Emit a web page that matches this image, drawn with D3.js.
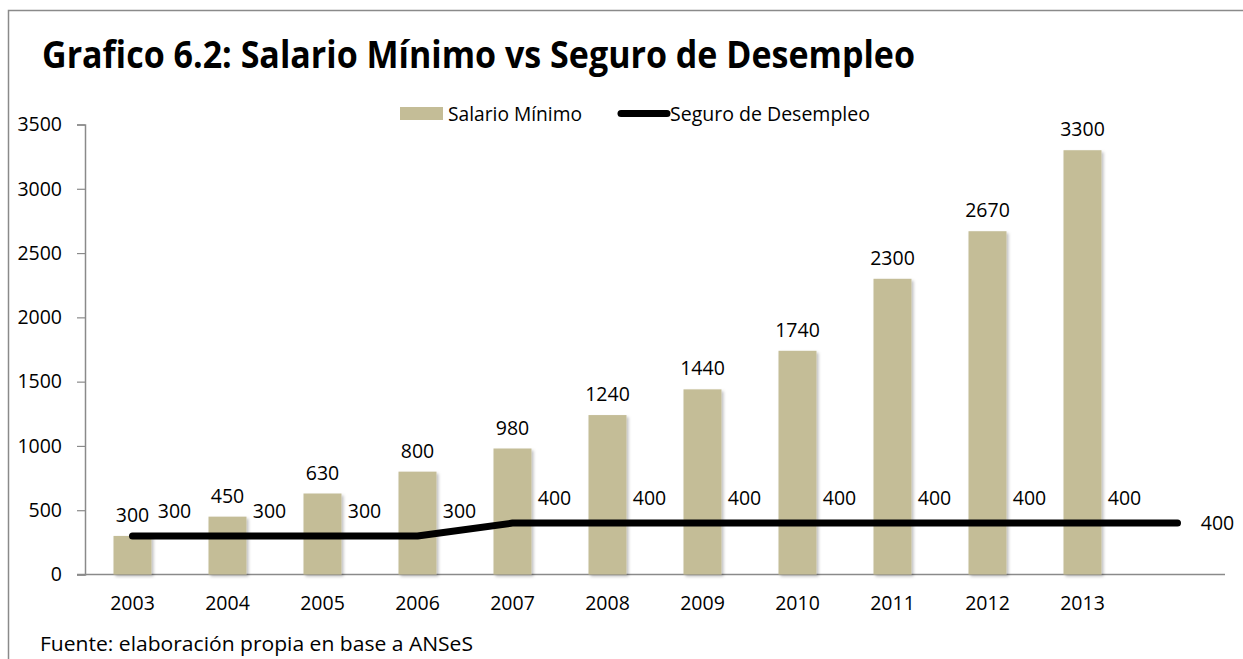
<!DOCTYPE html>
<html>
<head>
<meta charset="utf-8">
<script src="https://cdn.jsdelivr.net/npm/d3@7"></script>
<style>
	body { margin: 0; background: #fff; }
	text { font-family: "Open Sans", "Noto Sans", sans-serif; fill: #000; }
</style>
</head>
<body>
<div id="chart-area"></div>
<script>
// data
var years = ["2003", "2004", "2005", "2006", "2007", "2008", "2009", "2010", "2011", "2012", "2013", ""];
var salarioMinimo = [300, 450, 630, 800, 980, 1240, 1440, 1740, 2300, 2670, 3300];
var seguroDesempleo = [300, 300, 300, 300, 400, 400, 400, 400, 400, 400, 400, 400];
var yTicks = [0, 500, 1000, 1500, 2000, 2500, 3000, 3500];

var W = 1243, H = 659;
var margin = {top: 124.5, left: 85, bottom: 84.5, right: 18};
var width = W - margin.left - margin.right;
var height = H - margin.top - margin.bottom;
var fs = "19.5px";

var svg = d3.select("#chart-area")
	.append("svg")
	.attr("width", W)
	.attr("height", H);

// soft shadow for bars
var defs = svg.append("defs");
defs.append("filter")
	.attr("id", "shadow")
	.attr("x", "-20%").attr("y", "-5%")
	.attr("width", "150%").attr("height", "115%")
	.append("feDropShadow")
	.attr("dx", 2).attr("dy", 2)
	.attr("stdDeviation", 1.5)
	.attr("flood-color", "#000")
	.attr("flood-opacity", 0.25);

// outer frame
svg.append("rect")
	.attr("x", 8.5).attr("y", 10.5)
	.attr("width", 1400).attr("height", 800)
	.attr("fill", "none")
	.attr("stroke", "#8a8a8a")
	.attr("stroke-width", 1.5);

// title
svg.append("text")
	.attr("x", 42)
	.attr("y", 68)
	.attr("font-size", "37px")
	.attr("font-weight", "bold")
	.attr("textLength", 873)
	.attr("lengthAdjust", "spacingAndGlyphs")
	.text("Grafico 6.2: Salario Mínimo vs Seguro de Desempleo");

var g = svg.append("g")
	.attr("transform", "translate(" + margin.left + ", " + margin.top + ")");

// scales
var x = d3.scaleBand()
	.domain(years)
	.range([0, width])
	.paddingInner(0)
	.paddingOuter(0);

var y = d3.scaleLinear()
	.domain([0, 3500])
	.range([height, 0]);

var barW = x.bandwidth() * 0.4;

// Y axis
var yAxisCall = d3.axisLeft(y)
	.tickValues(yTicks)
	.tickSize(8)
	.tickPadding(15)
	.tickFormat(d3.format("d"));
var yAxis = g.append("g")
	.attr("class", "y axis")
	.call(yAxisCall);
yAxis.select(".domain").attr("stroke", "#8a8a8a").attr("stroke-width", 1.5);
yAxis.selectAll(".tick line").attr("stroke", "#8a8a8a").attr("stroke-width", 1.2);
yAxis.selectAll(".tick text")
	.attr("font-size", fs)
	.attr("font-family", "'Open Sans', sans-serif")
	.attr("fill", "#000");

// X axis
var xAxisCall = d3.axisBottom(x)
	.tickSize(0)
	.tickPadding(22);
var xAxis = g.append("g")
	.attr("class", "x axis")
	.attr("transform", "translate(0, " + height + ")")
	.call(xAxisCall);
xAxis.select(".domain")
	.attr("d", "M-8,0H" + width)
	.attr("stroke", "#8a8a8a")
	.attr("stroke-width", 1.5);
xAxis.selectAll(".tick text")
	.attr("font-size", fs)
	.attr("font-family", "'Open Sans', sans-serif")
	.attr("fill", "#000");

// bars
g.selectAll("rect.bar")
	.data(salarioMinimo)
	.enter()
	.append("rect")
	.attr("class", "bar")
	.attr("x", function(d, i){ return x(years[i]) + (x.bandwidth() - barW) / 2; })
	.attr("y", function(d){ return y(d); })
	.attr("width", barW)
	.attr("height", function(d){ return height - y(d); })
	.attr("fill", "#C4BD97")
	.attr("filter", "url(#shadow)");

// line
var line = d3.line()
	.x(function(d, i){ return x(years[i]) + x.bandwidth() / 2; })
	.y(function(d){ return y(d); });

g.append("path")
	.datum(seguroDesempleo)
	.attr("d", line)
	.attr("fill", "none")
	.attr("stroke", "#000")
	.attr("stroke-width", 7)
	.attr("stroke-linecap", "round")
	.attr("stroke-linejoin", "round");

// bar labels
g.selectAll("text.barlabel")
	.data(salarioMinimo)
	.enter()
	.append("text")
	.attr("class", "barlabel")
	.attr("x", function(d, i){ return x(years[i]) + x.bandwidth() / 2; })
	.attr("y", function(d){ return y(d) - 14; })
	.attr("text-anchor", "middle")
	.attr("font-size", fs)
	.text(function(d){ return d; });

// line labels
var last = seguroDesempleo.length - 1;
g.selectAll("text.linelabel")
	.data(seguroDesempleo)
	.enter()
	.append("text")
	.attr("class", "linelabel")
	.attr("x", function(d, i){ return x(years[i]) + x.bandwidth() / 2 + (i == last ? 40 : 42); })
	.attr("y", function(d, i){ return y(d) + (i == last ? 7 : -18); })
	.attr("text-anchor", "middle")
	.attr("font-size", fs)
	.text(function(d){ return d; });

// legend
var legend = svg.append("g");
legend.append("rect")
	.attr("x", 400).attr("y", 107)
	.attr("width", 43).attr("height", 13)
	.attr("fill", "#C4BD97");
legend.append("text")
	.attr("x", 448).attr("y", 121)
	.attr("font-size", fs)
	.attr("textLength", 134)
	.attr("lengthAdjust", "spacingAndGlyphs")
	.text("Salario Mínimo");
legend.append("line")
	.attr("x1", 621).attr("x2", 667)
	.attr("y1", 113.5).attr("y2", 113.5)
	.attr("stroke", "#000")
	.attr("stroke-width", 7)
	.attr("stroke-linecap", "round");
legend.append("text")
	.attr("x", 670).attr("y", 121)
	.attr("font-size", fs)
	.attr("textLength", 200)
	.attr("lengthAdjust", "spacingAndGlyphs")
	.text("Seguro de Desempleo");

// source
svg.append("text")
	.attr("x", 40)
	.attr("y", 651)
	.attr("font-size", fs)
	.attr("textLength", 433)
	.attr("lengthAdjust", "spacingAndGlyphs")
	.text("Fuente: elaboración propia en base a ANSeS");
</script>
</body>
</html>
